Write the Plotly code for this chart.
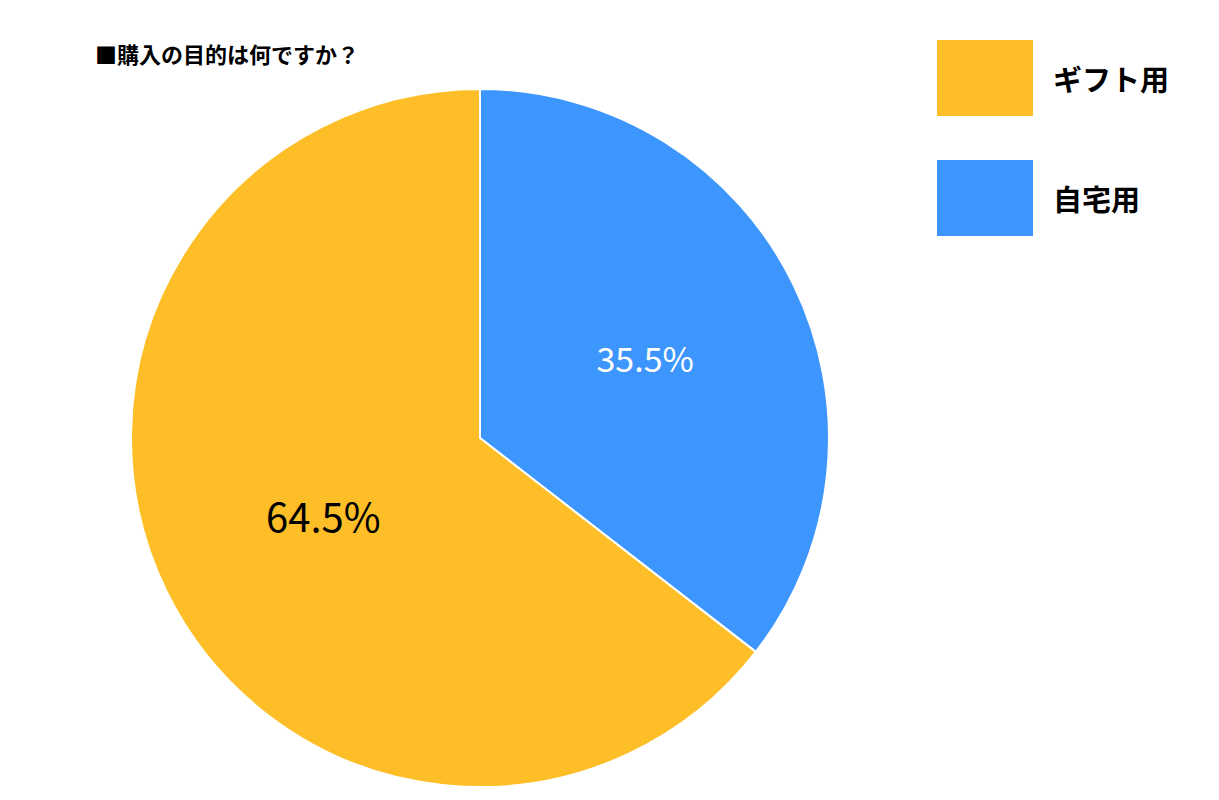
import plotly.graph_objects as go

labels = ["自宅用", "ギフト用"]
values = [35.5, 64.5]
colors = ["#3d95fe", "#fdbe27"]
legend_order = ["ギフト用", "自宅用"]
title = "■購入の目的は何ですか？"

W, H = 1219, 800
fig = go.Figure(go.Pie(
    labels=labels, values=values, sort=False, direction="clockwise", rotation=0,
    marker=dict(colors=colors, line=dict(color="white", width=2)),
    texttemplate="%{value}%", textposition="inside",
    textfont=dict(family="Noto Sans CJK JP", size=[34, 40], color=["white", "black"]),
    insidetextorientation="horizontal",
    domain=dict(x=[123/W, 821/W], y=[1-779/H, 1-81/H]),
    showlegend=False, hoverinfo="skip",
))
fig.add_annotation(text="<b>"+title+"</b>", x=85/W, y=1-45/H, xref="paper", yref="paper",
                   xanchor="left", yanchor="middle", showarrow=False,
                   font=dict(family="Noto Sans CJK JP", size=22, color="black"))
cmap = dict(zip(labels, colors))
for i, lab in enumerate(legend_order):
    top = 32 + i*120
    fig.add_shape(type="rect", xref="paper", yref="paper", x0=929/W, x1=1025/W,
                  y0=1-(top+76)/H, y1=1-top/H, fillcolor=cmap[lab], line_width=0)
    fig.add_annotation(text="<b>"+lab+"</b>", x=1043/W, y=1-(top+38)/H, xref="paper", yref="paper",
                       xanchor="left", yanchor="middle", showarrow=False,
                       font=dict(family="Noto Sans CJK JP", size=29, color="black"))
fig.update_layout(width=W, height=H, margin=dict(l=0, r=0, t=0, b=0),
                  paper_bgcolor="white", plot_bgcolor="white")
fig.write_html("out.html")
